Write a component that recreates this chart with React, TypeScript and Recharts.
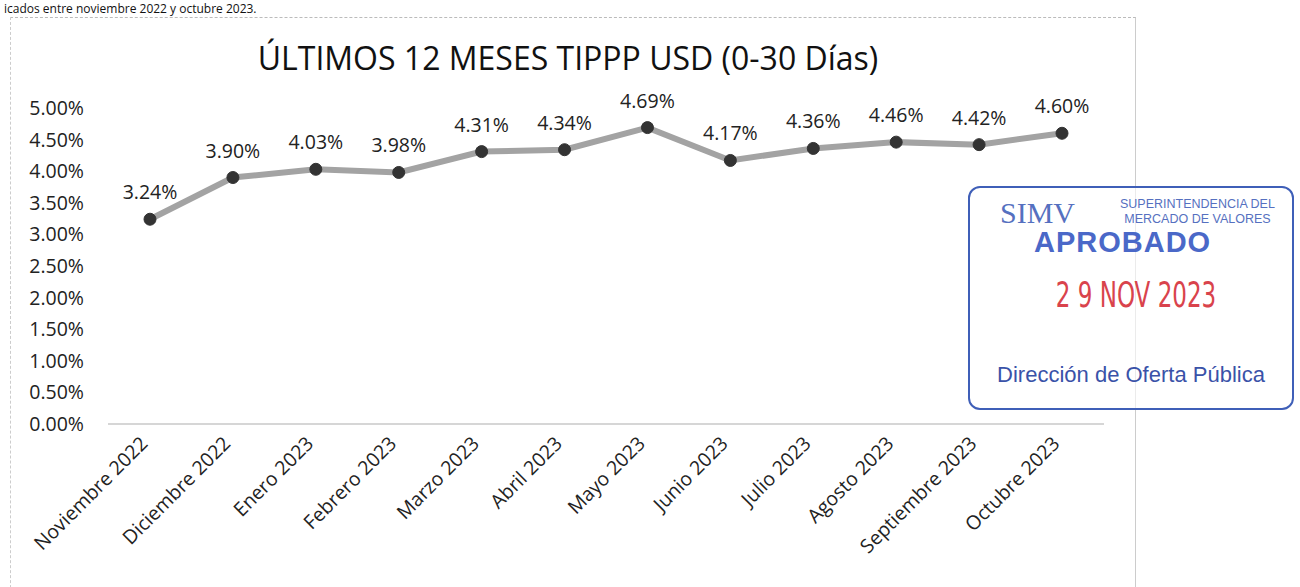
import React from "react";
import { LineChart, Line, XAxis, YAxis, LabelList } from "recharts";

const months = [
  "Noviembre 2022",
  "Diciembre 2022",
  "Enero 2023",
  "Febrero 2023",
  "Marzo 2023",
  "Abril 2023",
  "Mayo 2023",
  "Junio 2023",
  "Julio 2023",
  "Agosto 2023",
  "Septiembre 2023",
  "Octubre 2023",
];
const tippp = [3.24, 3.9, 4.03, 3.98, 4.31, 4.34, 4.69, 4.17, 4.36, 4.46, 4.42, 4.6];
const yTicks = [0, 0.5, 1, 1.5, 2, 2.5, 3, 3.5, 4, 4.5, 5];

const data = months.map((m, i) => ({ name: m, value: tippp[i] }));

const font = "'Open Sans', sans-serif";

const MonthTick = (props: any) => {
  const { x, y, payload } = props;
  return (
    <g transform={`translate(${x - 6},${y + 14})`}>
      <text
        transform="rotate(-45)"
        textAnchor="end"
        dy="0.35em"
        fontSize={19.5}
        fontFamily={font}
        fill="#222"
      >
        {payload.value}
      </text>
    </g>
  );
};

const Stamp = () => (
  <div
    style={{
      position: "absolute",
      left: 968,
      top: 186,
      width: 322,
      height: 220,
      border: "2px solid #3f5fb8",
      borderRadius: 12,
      fontFamily: "'Liberation Sans', Arial, sans-serif",
      color: "#3f5fb8",
      background: "rgba(255,255,255,0.6)",
    }}
  >
    <div
      style={{
        position: "absolute",
        left: 30,
        top: 8,
        fontFamily: "'Liberation Serif', serif",
        fontSize: 30,
        color: "#5570c0",
      }}
    >
      SIMV
    </div>
    <div
      style={{
        position: "absolute",
        left: 150,
        top: 9,
        fontSize: 12.5,
        lineHeight: "15px",
        textAlign: "center",
        color: "#5570c0",
      }}
    >
      SUPERINTENDENCIA DEL
      <br />
      MERCADO DE VALORES
    </div>
    <div
      style={{
        position: "absolute",
        left: 64,
        top: 38,
        fontSize: 29,
        fontWeight: "bold",
        letterSpacing: 1,
        color: "#4a68c8",
      }}
    >
      APROBADO
    </div>
    <div
      style={{
        position: "absolute",
        left: 6,
        width: 320,
        top: 88,
        textAlign: "center",
        fontFamily: "'DejaVu Sans Condensed', sans-serif",
        fontSize: 32,
        color: "#d9434c",
        transform: "scale(0.8, 1.1)",
      }}
    >
      2 9 NOV 2023
    </div>
    <div
      style={{
        position: "absolute",
        left: 0,
        width: 322,
        top: 174,
        textAlign: "center",
        fontSize: 22,
        color: "#3a52a8",
      }}
    >
      Dirección de Oferta Pública
    </div>
  </div>
);

export default function App() {
  return (
    <div
      style={{
        position: "fixed",
        left: 0,
        top: 0,
        width: 1300,
        height: 587,
        background: "#fff",
        overflow: "hidden",
      }}
    >
      <div
        style={{
          position: "absolute",
          left: 4,
          top: 1,
          fontFamily: font,
          fontSize: 12,
          lineHeight: "16px",
          color: "#111",
          whiteSpace: "nowrap",
        }}
      >
        icados entre noviembre 2022 y octubre 2023.
      </div>
      <div
        style={{
          position: "absolute",
          left: 10,
          top: 17,
          width: 1124,
          height: 600,
          borderTop: "1px dashed #bbb",
          borderRight: "1px solid #ccc",
          borderLeft: "1px dashed #ccc",
        }}
      />
      <div
        style={{
          position: "absolute",
          left: 0,
          width: 1136,
          top: 36,
          textAlign: "center",
          fontFamily: font,
          fontSize: 32,
          color: "#111",
        }}
      >
        ÚLTIMOS 12 MESES TIPPP USD (0-30 Días)
      </div>
      <div style={{ position: "absolute", left: 0, top: 0 }}>
        <LineChart
          width={1130}
          height={587}
          data={data}
          margin={{ top: 108, right: 26, bottom: 0, left: 0 }}
        >
          <XAxis
            dataKey="name"
            interval={0}
            tickLine={false}
            tickSize={0}
            padding={{ left: 42, right: 42 }}
            axisLine={{ stroke: "#d6d6d6", strokeWidth: 2 }}
            tick={<MonthTick />}
            height={163}
          />
          <YAxis
            domain={[0, 5]}
            ticks={yTicks}
            width={108}
            axisLine={false}
            tickLine={false}
            tickSize={0}
            tickMargin={24}
            tickFormatter={(v: number) => `${v.toFixed(2)}%`}
            tick={{ fontSize: 19.5, fontFamily: font, fill: "#222" }}
          />
          <Line
            dataKey="value"
            stroke="#a3a3a3"
            strokeWidth={6}
            isAnimationActive={false}
            dot={{ r: 6, fill: "#333", stroke: "#333", strokeWidth: 1 }}
          >
            <LabelList
              dataKey="value"
              position="top"
              offset={20}
              formatter={(v: number) => `${v.toFixed(2)}%`}
              style={{ fontSize: 19.5, fontFamily: font, fill: "#222" }}
            />
          </Line>
        </LineChart>
      </div>
      <Stamp />
    </div>
  );
}
